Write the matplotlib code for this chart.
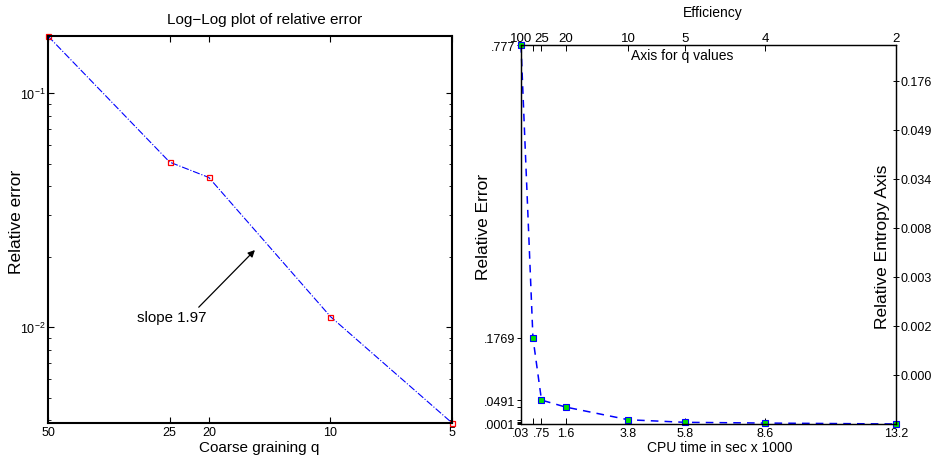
import matplotlib
matplotlib.use("Agg")
import matplotlib.pyplot as plt
from matplotlib.ticker import FixedLocator, NullLocator, LogLocator, NullFormatter

plt.rcParams['font.family'] = ['Liberation Sans', 'DejaVu Sans']
plt.rcParams['mathtext.default'] = 'regular'

# left panel: log-log relative error vs coarse graining
q_coarse = [50, 25, 20, 10, 5]
rel_err = [0.175, 0.0507, 0.0436, 0.0111, 0.0039]
q_ticks = [50, 25, 20, 10, 5]
q_tick_labels = ['50', '25', '20', '10', '5']

# right panel: relative error vs cpu time
cpu_time = [0.03, 0.45, 0.75, 1.6, 3.8, 5.8, 8.6, 13.2]
rel_error = [0.777, 0.1769, 0.0491, 0.0348, 0.0088, 0.0035, 0.0020, 0.0001]
cpu_labels = ['.03', '', '.75', '1.6', '3.8', '5.8', '8.6', '13.2']
err_labels = ['.777', '.1769', '.0491', '', '', '', '', '.0001']
q_values = ['100', '', '25', '20', '10', '5', '4', '2']
entropy_labels = ['0.000', '0.002', '0.003', '0.008', '0.034', '0.049', '0.176']

fig = plt.figure(figsize=(9.31, 4.6), dpi=100)

# ---------------- left panel ----------------
ax1 = fig.add_axes([0.0516, 0.0783, 0.434, 0.841])
ax1.loglog(q_coarse, rel_err, linestyle='-.', color='#0000ff', lw=0.8,
           marker='s', ms=3.6, mfc='none', mec='#ff0000', mew=0.9, clip_on=False)
ax1.set_xlim(50, 5)
ax1.set_ylim(0.0039, 0.175)
ax1.xaxis.set_major_locator(FixedLocator(q_ticks))
ax1.set_xticklabels(q_tick_labels)
ax1.xaxis.set_minor_locator(NullLocator())
ax1.yaxis.set_major_locator(FixedLocator([0.01, 0.1]))
ax1.set_yticklabels(['$10^{-2}$', '$10^{-1}$'])
ax1.yaxis.set_minor_locator(LogLocator(base=10, subs=range(2, 10)))
ax1.yaxis.set_minor_formatter(NullFormatter())
ax1.tick_params(which='both', direction='in', top=True, right=True, labelsize=9, pad=2)
ax1.tick_params(which='major', length=4, width=0.8)
ax1.tick_params(which='minor', length=2, width=0.6)
for s in ax1.spines.values():
    s.set_linewidth(1.5)

ax1.text(0.537, 1.026, 'Log\u2212Log plot of relative error', transform=ax1.transAxes,
         ha='center', va='bottom', fontsize=11)
ax1.text(0.522, -0.062, 'Coarse graining q', transform=ax1.transAxes,
         ha='center', va='center', fontsize=11)
ax1.text(-0.079, 0.522, 'Relative error', transform=ax1.transAxes, rotation=90,
         ha='center', va='center', fontsize=12.5)
ax1.annotate('slope 1.97', xy=(0.512, 0.447), xytext=(0.22, 0.274),
             xycoords='axes fraction', textcoords='axes fraction',
             ha='left', va='center', fontsize=10.8,
             arrowprops=dict(arrowstyle='-|>', color='black', lw=0.9,
                             mutation_scale=10, shrinkA=0, shrinkB=0,
                             relpos=(0.85, 1.0)))

# ---------------- right panel ----------------
ax2 = fig.add_axes([0.5596, 0.0761, 0.4028, 0.8239])
ax2.plot(cpu_time, rel_error, linestyle=(0, (5, 4)), color='#0000ff', lw=1.1,
         marker='s', ms=3.8, mfc='#00e000', mec='#0000ff', mew=0.8, clip_on=False)
ax2.set_xlim(cpu_time[0], cpu_time[-1])
ax2.set_ylim(rel_error[-1], rel_error[0])
ax2.set_xticks(cpu_time)
ax2.set_xticklabels(cpu_labels)
ax2.set_yticks(rel_error)
ax2.set_yticklabels(err_labels)
ax2.tick_params(axis='x', direction='in', length=4, width=0.7, labelsize=9, pad=2)
ax2.tick_params(axis='y', direction='out', length=3, width=0.7, labelsize=9, pad=1)
for s in ax2.spines.values():
    s.set_linewidth(0.9)

top = ax2.twiny()
top.set_xlim(ax2.get_xlim())
top.set_xticks(cpu_time)
top.set_xticklabels(q_values)
top.tick_params(axis='x', direction='in', length=4, width=0.7, labelsize=9.5, pad=1)

right = ax2.twinx()
right.set_ylim(0, 379 / 49)
right.set_yticks(range(1, 8))
right.set_yticklabels(entropy_labels)
right.tick_params(axis='y', direction='inout', length=5, width=0.7, labelsize=9, pad=1)

ax2.text(0.512, 1.087, 'Efficiency', transform=ax2.transAxes,
         ha='center', va='center', fontsize=10)
ax2.text(0.429, 0.974, 'Axis for q values', transform=ax2.transAxes,
         ha='center', va='center', fontsize=10)
ax2.text(0.531, -0.061, 'CPU time in sec x 1000', transform=ax2.transAxes,
         ha='center', va='center', fontsize=10)
ax2.text(-0.101, 0.522, 'Relative Error', transform=ax2.transAxes, rotation=90,
         ha='center', va='center', fontsize=12.5)
ax2.text(0.965, 0.47, 'Relative Entropy Axis', transform=ax2.transAxes, rotation=90,
         ha='center', va='center', fontsize=12.5)

fig.savefig('out.png', dpi=100)
